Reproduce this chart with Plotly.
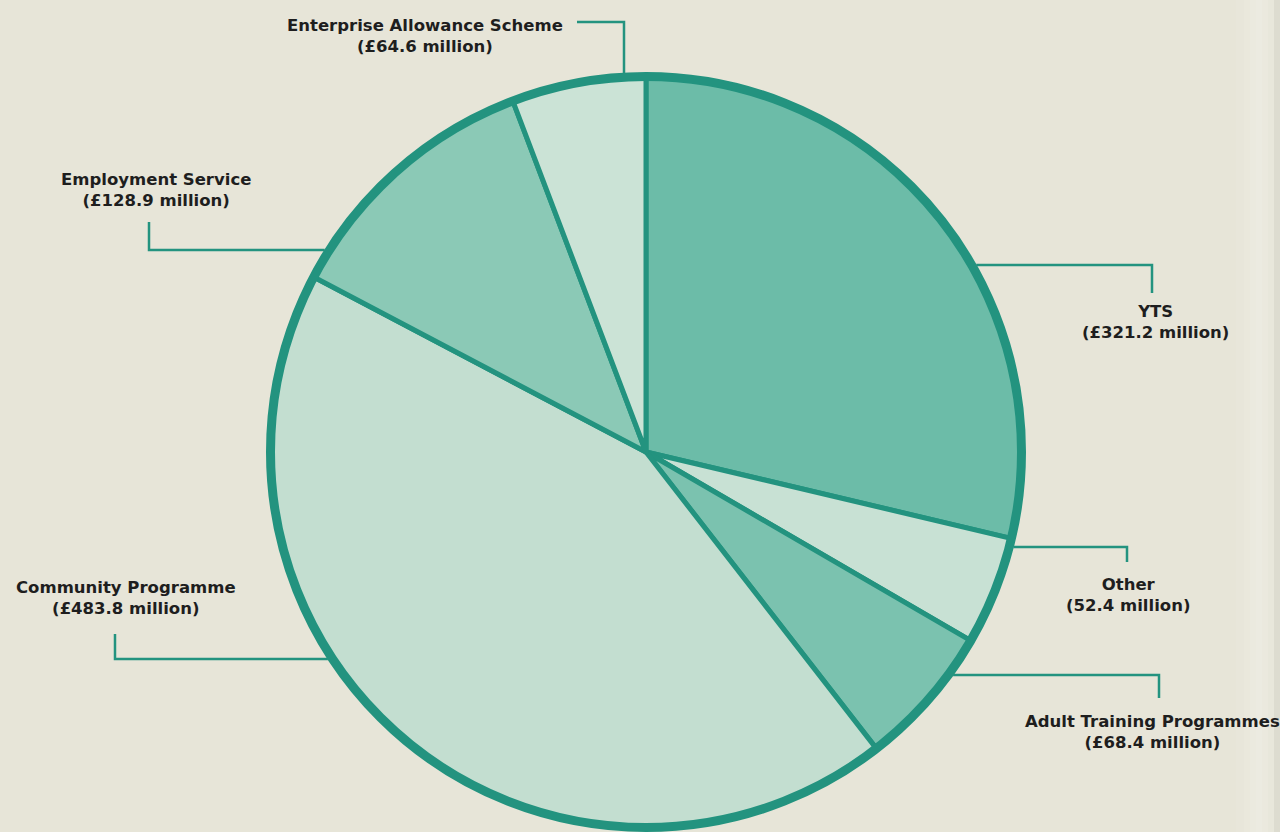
import math
import plotly.graph_objects as go

# Spending by programme, £ million
programmes = [
    "YTS",
    "Other",
    "Adult Training Programmes",
    "Community Programme",
    "Employment Service",
    "Enterprise Allowance Scheme",
]
spend_m = [321.2, 52.4, 68.4, 483.8, 128.9, 64.6]
currency = ["£", "", "£", "£", "£", "£"]

slice_colours = ["#6cbca8", "#c8e1d4", "#7bc2af", "#c3ded0", "#8bc9b6", "#cbe3d6"]
teal = "#23937f"
paper_bg = "#e7e5d8"
ink = "#1e1e1e"

W, H = 1280, 832
CX, CY = 646, 452          # pie centre (px)
R = 375                    # pie radius (px)
RING = 9                   # outer ring width (px)
R_OUT = R + RING / 2

# Leader-line and label placement (px): side, leader y, elbow x, tip y, label x, label y
callouts = {
    "YTS": ("right", 265, 1152, 293, 1155, 322),
    "Other": ("right", 547, 1127, 562, 1128, 595),
    "Adult Training Programmes": ("right", 675, 1159, 698, 1152, 732),
    "Community Programme": ("left", 659, 115, 634, 126, 598),
    "Employment Service": ("left", 250, 149, 222, 156, 190),
    "Enterprise Allowance Scheme": ("top", 22, 624, 577, 425, 36),
}


def px(x):
    return x / W


def py(y):
    return 1 - y / H


fig = go.Figure(
    go.Pie(
        labels=programmes,
        values=spend_m,
        sort=False,
        direction="clockwise",
        rotation=0,
        textinfo="none",
        hoverinfo="label+value",
        marker=dict(colors=slice_colours, line=dict(color=teal, width=5)),
        domain=dict(
            x=[px(CX - R), px(CX + R)],
            y=[py(CY + R), py(CY - R)],
        ),
        showlegend=False,
    )
)

shapes = []

# soft page-edge sheen on the right
sheen = [(1236, 1244, 0.06), (1244, 1250, 0.12), (1250, 1256, 0.2),
         (1256, 1262, 0.24), (1262, 1268, 0.16), (1268, 1274, 0.08)]
for x0, x1, a in sheen:
    shapes.append(
        dict(type="rect", xref="paper", yref="paper", x0=px(x0), x1=px(x1),
             y0=0, y1=1, line=dict(width=0),
             fillcolor=f"rgba(255,255,255,{a})", layer="below")
    )
shapes.append(
    dict(type="rect", xref="paper", yref="paper", x0=px(1274), x1=1,
         y0=0, y1=1, line=dict(width=0),
         fillcolor="rgba(120,120,110,0.08)", layer="below")
)

# heavy outer ring
shapes.append(
    dict(
        type="circle", xref="paper", yref="paper",
        x0=px(CX - R - 0.5), x1=px(CX + R + 0.5),
        y0=py(CY + R + 0.5), y1=py(CY - R - 0.5),
        line=dict(color=teal, width=RING),
        fillcolor="rgba(0,0,0,0)",
    )
)

annotations = []
for name, val, cur in zip(programmes, spend_m, currency):
    side, ly, ex, ty, tx, tyc = callouts[name]
    if side == "top":
        rim_y = CY - math.sqrt(R_OUT ** 2 - (ex - CX) ** 2)
        pts = [(ty, ly), (ex, ly), (ex, rim_y)]
    else:
        sgn = 1 if side == "right" else -1
        rim_x = CX + sgn * math.sqrt(R_OUT ** 2 - (ly - CY) ** 2)
        pts = [(rim_x, ly), (ex, ly), (ex, ty)]
    path = "M " + " L ".join(f"{px(x):.5f},{py(y):.5f}" for x, y in pts)
    shapes.append(
        dict(type="path", xref="paper", yref="paper", path=path,
             line=dict(color=teal, width=2.5))
    )
    annotations.append(
        dict(
            x=px(tx), y=py(tyc), xref="paper", yref="paper",
            xanchor="center", yanchor="middle", align="center",
            showarrow=False,
            text=f"{name}<br>({cur}{val:.1f} million)",
            font=dict(family="DejaVu Sans, Arial, sans-serif",
                      size=16.5, color=ink, weight="bold"),
        )
    )

fig.update_layout(
    width=W, height=H,
    margin=dict(l=0, r=0, t=0, b=0),
    paper_bgcolor=paper_bg,
    plot_bgcolor=paper_bg,
    shapes=shapes,
    annotations=annotations,
)

fig.write_html("out.html")
